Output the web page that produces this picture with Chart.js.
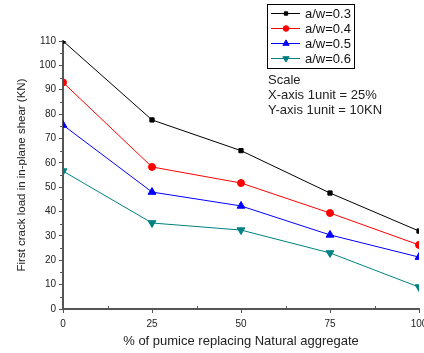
<!DOCTYPE html>
<html>
<head>
<meta charset="utf-8">
<script src="https://cdn.jsdelivr.net/npm/chart.js@4.4.1/dist/chart.umd.min.js"></script>
<style>
  html, body { margin: 0; padding: 0; background: #fff; overflow: hidden; }
  #wrap { width: 440px; height: 353px; }
</style>
</head>
<body>
<div id="wrap"><canvas id="crack-chart" width="440" height="353"></canvas></div>
<script>
// % of pumice replacing natural aggregate
const pumice = [0, 25, 50, 75, 100];
// first crack load (KN) for each a/w ratio
const aw03 = [110, 77.6, 65, 47.6, 32];
const aw04 = [93, 58.3, 51.7, 39.4, 26.3];
const aw05 = [75.5, 48, 42.3, 30.4, 21.3];
const aw06 = [56.6, 35.3, 32.4, 23, 9];
const seriesLabels = ['a/w=0.3', 'a/w=0.4', 'a/w=0.5', 'a/w=0.6'];
const scaleNote = ['Scale', 'X-axis 1unit = 25%', 'Y-axis 1unit = 10KN'];

const fontFam = '"Liberation Sans", Arial, sans-serif';
const axisCol = '#555';

function pts(vals) {
  return vals.map((v, i) => ({ x: pumice[i], y: v }));
}

function ds(label, vals, color, style, radius, rot) {
  return {
    label: label,
    data: pts(vals),
    borderColor: color,
    backgroundColor: color,
    borderWidth: 1,
    pointStyle: style,
    pointRadius: radius,
    pointRotation: rot || 0,
    pointBorderWidth: 1,
    tension: 0
  };
}

const dataCrack = {
  datasets: [
    ds(seriesLabels[0], aw03, '#000000', 'rect', 3),
    ds(seriesLabels[1], aw04, '#ff0000', 'circle', 3.5),
    ds(seriesLabels[2], aw05, '#0000ff', 'triangle', 4.5),
    ds(seriesLabels[3], aw06, '#008080', 'triangle', 4.5, 180)
  ]
};

// minor ticks (inward) + boxed legend + scale note
const extras = {
  id: 'extras',
  afterDraw(chart) {
    const ctx = chart.ctx;
    const xs = chart.scales.x, ys = chart.scales.y;
    ctx.save();
    ctx.strokeStyle = axisCol;
    ctx.lineWidth = 1;
    for (let v = 12.5; v < 100; v += 25) {
      const px = Math.round(xs.getPixelForValue(v)) + 0.5;
      ctx.beginPath();
      ctx.moveTo(px, ys.bottom);
      ctx.lineTo(px, ys.bottom - 3);
      ctx.stroke();
    }
    for (let v = 5; v < 110; v += 10) {
      const py = Math.round(ys.getPixelForValue(v)) + 0.5;
      ctx.beginPath();
      ctx.moveTo(xs.left - 3, py);
      ctx.lineTo(xs.left, py);
      ctx.stroke();
    }

    // legend box
    const bx = 267, by = 4, bw = 87, bh = 64, rowH = 15;
    ctx.strokeStyle = '#000';
    ctx.lineWidth = 1;
    ctx.strokeRect(bx + 0.5, by + 0.5, bw, bh);
    ctx.font = '13px ' + fontFam;
    ctx.textBaseline = 'middle';
    ctx.textAlign = 'left';
    chart.data.datasets.forEach((d, i) => {
      const y = by + 9 + i * rowH;
      ctx.strokeStyle = d.borderColor;
      ctx.beginPath();
      ctx.moveTo(bx + 4, y + 0.5);
      ctx.lineTo(bx + 33, y + 0.5);
      ctx.stroke();
      ctx.fillStyle = d.backgroundColor;
      Chart.helpers.drawPoint(ctx, {
        pointStyle: d.pointStyle,
        rotation: d.pointRotation,
        radius: d.pointRadius * 0.8,
        borderWidth: 1
      }, bx + 19, y + 0.5);
      ctx.fillStyle = '#111';
      ctx.fillText(d.label, bx + 38, y + 1);
    });

    // scale note
    ctx.fillStyle = '#222';
    scaleNote.forEach((t, i) => {
      ctx.fillText(t, 268, 80 + i * 15);
    });
    ctx.restore();
  }
};

const ctxCrack = document.getElementById('crack-chart').getContext('2d');

const crackChart = new Chart(ctxCrack, {
  type: 'line',
  data: dataCrack,
  plugins: [extras],
  options: {
    responsive: false,
    animation: false,
    layout: { padding: { top: 41, right: 21, left: 11, bottom: 0 } },
    plugins: {
      legend: { display: false },
      tooltip: { enabled: false }
    },
    scales: {
      x: {
        type: 'linear',
        min: 0,
        max: 100,
        afterFit(scale) { scale.height = 44; },
        ticks: {
          stepSize: 25,
          color: '#222',
          padding: 5,
          font: { family: fontFam, size: 10 }
        },
        grid: { drawOnChartArea: false, drawTicks: true, tickLength: 4, color: axisCol },
        border: { display: true, color: axisCol, width: 2 },
        title: {
          display: true,
          text: '% of pumice replacing Natural aggregate',
          color: '#222',
          padding: { top: 3 },
          font: { family: fontFam, size: 13 }
        }
      },
      y: {
        min: 0,
        max: 110,
        afterFit(scale) { scale.width = 52; },
        ticks: {
          stepSize: 10,
          color: '#222',
          padding: 3,
          font: { family: fontFam, size: 10 }
        },
        grid: { drawOnChartArea: false, drawTicks: true, tickLength: 4, color: axisCol },
        border: { display: true, color: axisCol, width: 2 },
        title: {
          display: true,
          text: 'First crack load in in-plane shear (KN)',
          color: '#222',
          padding: { bottom: 8 },
          font: { family: fontFam, size: 11.5 }
        }
      }
    }
  }
});
</script>
</body>
</html>
